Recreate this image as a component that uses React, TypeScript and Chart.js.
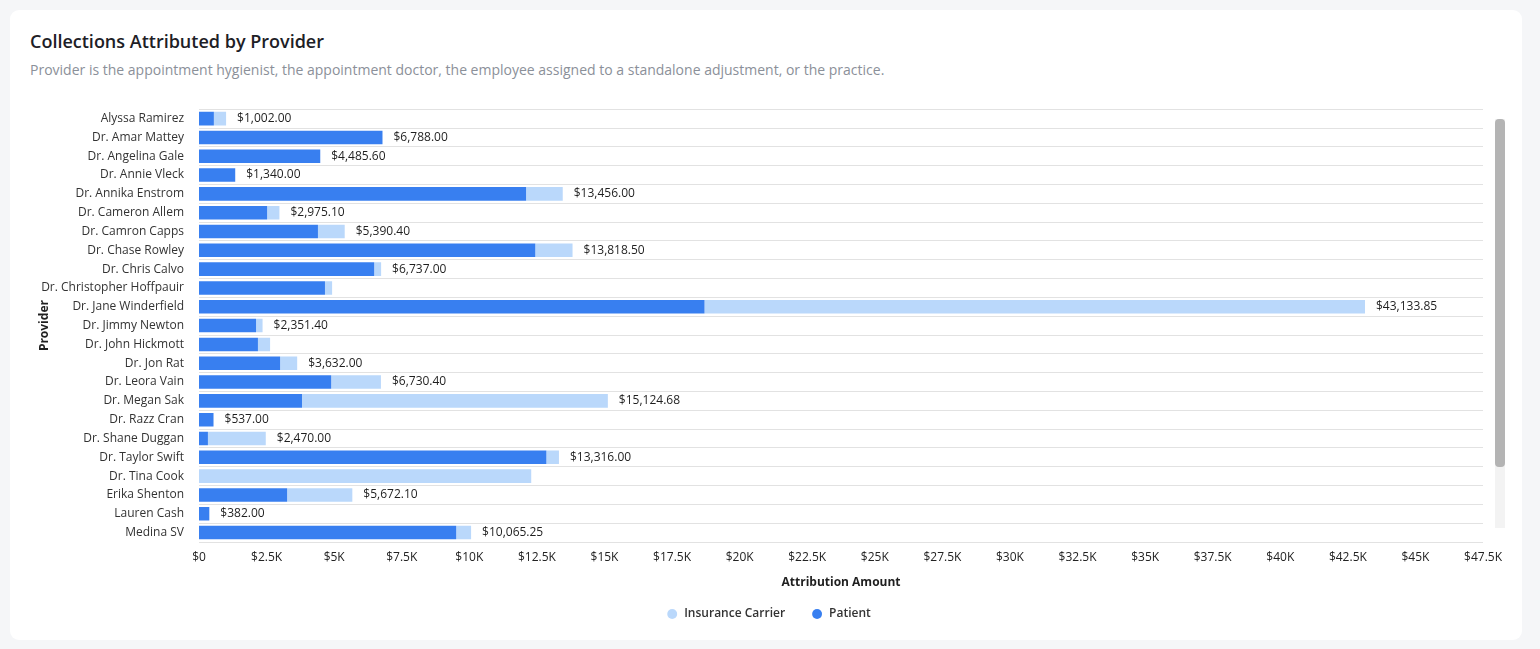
import React, { useEffect, useRef } from "react";
import { Chart, registerables } from "chart.js";

Chart.register(...registerables);

const providers = [
  "Alyssa Ramirez",
  "Dr. Amar Mattey",
  "Dr. Angelina Gale",
  "Dr. Annie Vleck",
  "Dr. Annika Enstrom",
  "Dr. Cameron Allem",
  "Dr. Camron Capps",
  "Dr. Chase Rowley",
  "Dr. Chris Calvo",
  "Dr. Christopher Hoffpauir",
  "Dr. Jane Winderfield",
  "Dr. Jimmy Newton",
  "Dr. John Hickmott",
  "Dr. Jon Rat",
  "Dr. Leora Vain",
  "Dr. Megan Sak",
  "Dr. Razz Cran",
  "Dr. Shane Duggan",
  "Dr. Taylor Swift",
  "Dr. Tina Cook",
  "Erika Shenton",
  "Lauren Cash",
  "Medina SV",
];

const patientAmounts = [
  550, 6788, 4485.6, 1340, 12100, 2520, 4400, 12440, 6480, 4660, 18700, 2110,
  2180, 3000, 4890, 3810, 537, 330, 12850, 0, 3260, 382, 9515,
];

const insuranceAmounts = [
  452, 0, 0, 0, 1356, 455.1, 990.4, 1378.5, 257, 264, 24433.85, 241.4, 450,
  632, 1840.4, 11314.68, 0, 2140, 466, 12290, 2412.1, 0, 550.25,
];

// Providers whose total is not printed beside the bar
const hiddenTotals = ["Dr. Christopher Hoffpauir", "Dr. John Hickmott", "Dr. Tina Cook"];

const axisMax = 47500;
const axisStep = 2500;

const FONT = "'Open Sans', 'Noto Sans', sans-serif";
const PATIENT_COLOR = "#387ff0";
const INSURANCE_COLOR = "#bad8fb";

const formatMoney = (v: number) =>
  "$" + v.toLocaleString("en-US", { minimumFractionDigits: 2, maximumFractionDigits: 2 });

const formatTick = (v: number) => (v === 0 ? "$0" : "$" + v / 1000 + "K");

// Writes each provider's combined total just past the end of its stacked bar
const totalsPlugin = {
  id: "barTotals",
  afterDatasetsDraw(chart: any) {
    const { ctx, scales } = chart;
    const x = scales.x;
    const y = scales.y;
    ctx.save();
    ctx.font = `12px ${FONT}`;
    ctx.fillStyle = "#1f1f1f";
    ctx.textAlign = "left";
    ctx.textBaseline = "middle";
    providers.forEach((name, i) => {
      if (hiddenTotals.includes(name)) return;
      const total = patientAmounts[i] + insuranceAmounts[i];
      ctx.fillText(formatMoney(total), x.getPixelForValue(total) + 11, y.getPixelForValue(i));
    });
    ctx.restore();
  },
};

function ProviderChart() {
  const canvasRef = useRef<HTMLCanvasElement | null>(null);

  useEffect(() => {
    if (!canvasRef.current) return;
    const chart = new Chart(canvasRef.current, {
      type: "bar",
      data: {
        labels: providers,
        datasets: [
          {
            label: "Patient",
            data: patientAmounts,
            backgroundColor: PATIENT_COLOR,
            borderWidth: 0,
          },
          {
            label: "Insurance Carrier",
            data: insuranceAmounts,
            backgroundColor: INSURANCE_COLOR,
            borderWidth: 0,
          },
        ],
      },
      options: {
        indexAxis: "y",
        animation: false,
        responsive: true,
        maintainAspectRatio: false,
        layout: { padding: 0 },
        scales: {
          x: {
            stacked: true,
            min: 0,
            max: axisMax,
            border: { display: false },
            grid: { display: false, drawTicks: false },
            ticks: {
              stepSize: axisStep,
              padding: 8,
              color: "#222",
              font: { family: FONT, size: 12 },
              maxRotation: 0,
              autoSkip: false,
              callback: (v: any) => formatTick(Number(v)),
            },
            title: {
              display: true,
              text: "Attribution Amount",
              color: "#1f1f1f",
              font: { family: FONT, size: 12, weight: "bold" },
              padding: { top: 3.4, bottom: -8.2 },
            },
          },
          y: {
            stacked: true,
            border: { display: false },
            grid: { color: "#e2e2e2", lineWidth: 1, drawTicks: false, offset: true },
            ticks: {
              padding: 15,
              color: "#333",
              font: { family: FONT, size: 12 },
              autoSkip: false,
            },
            title: {
              display: true,
              text: "Provider",
              color: "#1f1f1f",
              font: { family: FONT, size: 12, weight: "bold" },
              padding: { top: 10, bottom: 0 },
            },
            afterFit: (scale: any) => {
              scale.width = 172;
            },
          },
        },
        plugins: {
          legend: {
            position: "bottom",
            reverse: true,
            labels: {
              usePointStyle: true,
              pointStyle: "circle",
              boxWidth: 12,
              boxHeight: 7,
              padding: 26,
              color: "#333",
              font: { family: FONT, size: 12, weight: 600 },
            },
          },
          tooltip: { enabled: false },
        },
      },
      plugins: [totalsPlugin],
    } as any);
    return () => chart.destroy();
  }, []);

  return (
    <div style={{ position: "absolute", left: 17, top: 77, width: 1483, height: 543 }}>
      <canvas ref={canvasRef} />
    </div>
  );
}

export default function App() {
  return (
    <div
      style={{
        position: "fixed",
        inset: 0,
        background: "#f5f6f8",
        fontFamily: FONT,
      }}
    >
      <div
        style={{
          position: "absolute",
          left: 10,
          top: 10,
          width: 1512,
          height: 630,
          background: "#ffffff",
          borderRadius: 9,
        }}
      >
        <div
          style={{
            position: "absolute",
            left: 20,
            top: 19,
            fontSize: 18,
            lineHeight: "24px",
            fontWeight: 600,
            color: "#1d2026",
            whiteSpace: "nowrap",
          }}
        >
          Collections Attributed by Provider
        </div>
        <div
          style={{
            position: "absolute",
            left: 20,
            top: 50,
            fontSize: 14,
            lineHeight: "20px",
            color: "#8b9099",
            whiteSpace: "nowrap",
          }}
        >
          Provider is the appointment hygienist, the appointment doctor, the employee assigned to a standalone adjustment, or the practice.
        </div>
        <ProviderChart />
        {/* scroll track and thumb of the bar list */}
        <div
          style={{
            position: "absolute",
            left: 1485,
            top: 109,
            width: 10,
            height: 409,
            background: "#f3f3f3",
          }}
        />
        <div
          style={{
            position: "absolute",
            left: 1485,
            top: 109,
            width: 10,
            height: 348,
            background: "#b4b4b4",
            borderRadius: 4,
          }}
        />
      </div>
    </div>
  );
}
